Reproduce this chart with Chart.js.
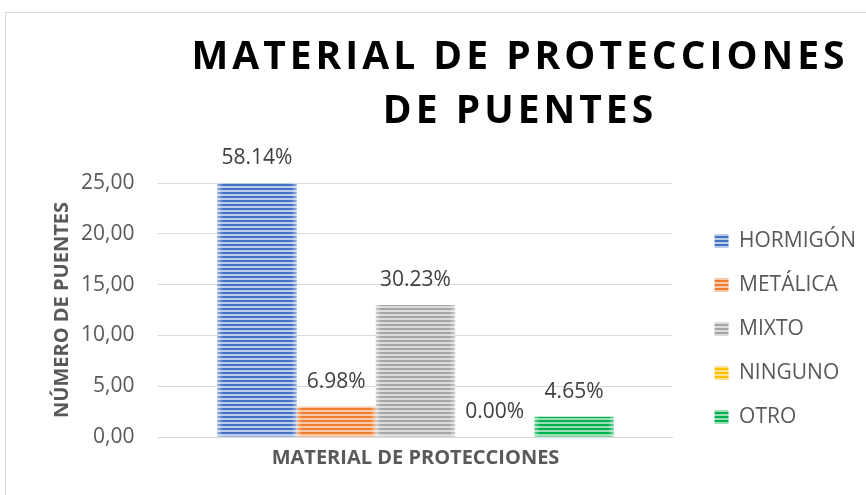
<!DOCTYPE html>
<html>
<head>
<meta charset="utf-8">
<script src="https://cdn.jsdelivr.net/npm/chart.js@4.4.0/dist/chart.umd.min.js"></script>
<style>
  html, body { margin: 0; padding: 0; background: #fff; }
  #wrap { position: relative; width: 866px; height: 495px; overflow: hidden; }
  #frame { position: absolute; left: 5px; top: 12px; width: 900px; height: 520px; border: 1px solid #d9d9d9; box-sizing: border-box; }
  #title { position: absolute; left: 120px; top: 27px; width: 800px; text-align: center; white-space: nowrap;
           font: bold 39px 'Open Sans', sans-serif; line-height: 54px; letter-spacing: 4px; color: #000; }
  #chart { position: absolute; left: 0; top: 0; }
</style>
</head>
<body>
<div id="wrap">
  <div id="frame"></div>
  <canvas id="chart" width="866" height="495"></canvas>
  <div id="title">MATERIAL DE PROTECCIONES<br>DE PUENTES</div>
</div>
<script>
/* Bar chart: material de protecciones de puentes */

var categories = ['MATERIAL DE PROTECCIONES'];
var seriesNames = ['HORMIGÓN', 'METÁLICA', 'MIXTO', 'NINGUNO', 'OTRO'];
var seriesValues = [25, 3, 13, 0, 2];
var percentLabels = ['58.14%', '6.98%', '30.23%', '0.00%', '4.65%'];
var yTicks = [0, 5, 10, 15, 20, 25];

var darkColors = ['#4472C4', '#ED7D31', '#A5A5A5', '#FFC000', '#00B050'];
var lightColors = ['#bccdeb', '#f8c9a8', '#dcdcdc', '#ffe290', '#99deb5'];

(function () {
  if (typeof Chart === 'undefined') {
    return;
  }

  var el = document.getElementById('chart');

  // horizontal stripes, 2px dark / 2px light
  function stripes(dark, light) {
    var c = document.createElement('canvas');
    c.width = 4;
    c.height = 4;
    var g = c.getContext('2d');
    g.fillStyle = light;
    g.fillRect(0, 0, 4, 4);
    g.fillStyle = dark;
    g.fillRect(0, 0, 4, 2);
    return g.createPattern(c, 'repeat');
  }

  var datasets = seriesNames.map(function (name, i) {
    return {
      label: name,
      data: [seriesValues[i]],
      backgroundColor: stripes(darkColors[i], lightColors[i]),
      borderWidth: 0,
    };
  });

  var percentPlugin = {
    id: 'percentLabels',
    afterDatasetsDraw: function (chart) {
      var ctx = chart.ctx;
      ctx.save();
      chart.data.datasets.forEach(function (ds, i) {
        var bar = chart.getDatasetMeta(i).data[0];
        if (!bar) return;
        // soft lighter edges like the original fill
        var w = bar.width;
        var left = bar.x - w / 2;
        var grad = ctx.createLinearGradient(left, 0, left + w, 0);
        grad.addColorStop(0, 'rgba(255,255,255,0.45)');
        grad.addColorStop(0.07, 'rgba(255,255,255,0)');
        grad.addColorStop(0.93, 'rgba(255,255,255,0)');
        grad.addColorStop(1, 'rgba(255,255,255,0.45)');
        ctx.fillStyle = grad;
        ctx.fillRect(left, bar.y, w, bar.base - bar.y);

        ctx.fillStyle = '#404040';
        ctx.font = '21px "Open Sans"';
        ctx.textAlign = 'center';
        ctx.textBaseline = 'middle';
        ctx.fillText(percentLabels[i], bar.x, bar.y - 25);
      });
      ctx.restore();
    },
  };

  // nudge legend, Excel leaves a wider gap after the plot
  var legendShift = {
    id: 'legendShift',
    afterLayout: function (chart) {
      if (chart.legend) {
        chart.legend.left += 19;
        chart.legend.right += 19;
        chart.legend.top -= 2;
        chart.legend.bottom -= 2;
      }
    },
  };

  new Chart(el, {
    type: 'bar',
    data: {
      labels: categories,
      datasets: datasets,
    },
    plugins: [percentPlugin, legendShift],
    options: {
      responsive: false,
      animation: false,
      layout: { padding: { top: 183, right: 19, bottom: 16, left: 46 } },
      datasets: {
        bar: { categoryPercentage: 0.771, barPercentage: 1 },
      },
      plugins: {
        tooltip: { enabled: false },
        title: { display: false },
        legend: {
          position: 'right',
          labels: {
            boxWidth: 14,
            boxHeight: 14,
            padding: 23,
            color: '#595959',
            font: { family: 'Open Sans', size: 21 },
          },
        },
      },
      scales: {
        x: {
          grid: { display: false, drawTicks: false },
          border: { color: '#d9d9d9' },
          ticks: {
            padding: 9,
            color: '#595959',
            font: { family: 'Open Sans', size: 20, weight: 'bold' },
          },
        },
        y: {
          min: yTicks[0],
          max: yTicks[yTicks.length - 1],
          afterBuildTicks: function (axis) {
            axis.ticks = yTicks.map(function (v) { return { value: v }; });
          },
          // tick padding is reserved on both sides; trim the outer one
          afterFit: function (axis) {
            axis.width -= 21;
          },
          grid: { color: '#d9d9d9', drawTicks: false },
          border: { display: false },
          ticks: {
            padding: 24,
            color: '#595959',
            font: { family: 'Open Sans', size: 21 },
            callback: function (v) { return Number(v).toFixed(2).replace('.', ','); },
          },
          title: {
            display: true,
            text: 'NÚMERO DE PUENTES',
            color: '#595959',
            padding: { top: 4, bottom: 4 },
            font: { family: 'Open Sans', size: 20, weight: 'bold' },
          },
        },
      },
    },
  });
})();
</script>
</body>
</html>
